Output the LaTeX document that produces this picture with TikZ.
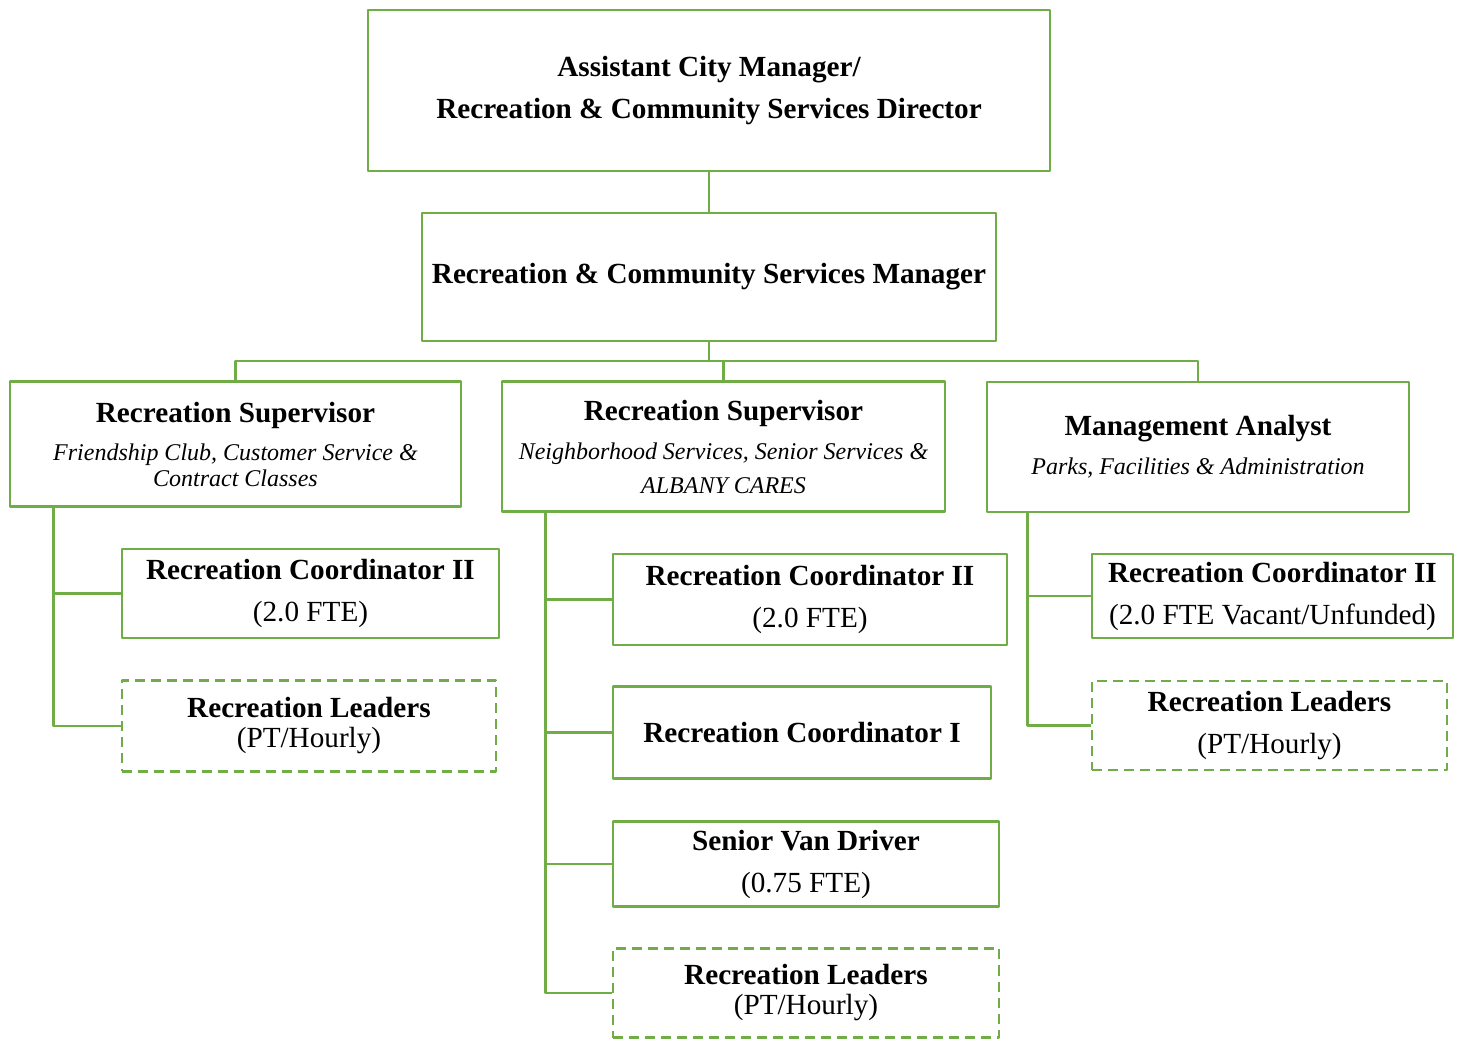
\documentclass[tikz,border=0pt]{standalone}
\usepackage{fontspec}
\setmainfont{Liberation Serif}
\definecolor{orggreen}{RGB}{112,173,71}
\newcommand{\unitnote}[1]{{\mdseries\itshape\fontsize{12pt}{13pt}\selectfont #1}}
\newcommand{\fte}[1]{{\mdseries #1}}
\begin{document}
\begin{tikzpicture}[x=0.5pt,y=-0.5pt,line join=round,
	box/.style={draw=orggreen,line width=1.4pt,inner sep=0pt,align=center,font=\fontsize{14.6pt}{21pt}\selectfont\bfseries},
	vacbox/.style={box,dashed,dash pattern=on 5pt off 3pt},
	conn/.style={draw=orggreen,line width=1.4pt}]
	
	\useasboundingbox (0,0) rectangle (1458,1042);
	% Cấp trên
	\node[box,minimum width=341pt,minimum height=80.5pt] (dir) at (709,90.5) {Assistant City Manager/\\Recreation \& Community Services Director};
	\node[box,minimum width=287pt,minimum height=64pt] (mgr) at (709,277) {Recreation \& Community Services Manager};
	% Ba nhánh
	\node[box,minimum width=225.5pt,minimum height=62.5pt] (sup1) at (235.5,444) {Recreation Supervisor\\[-2pt]\unitnote{Friendship Club, Customer Service \&}\\[-8pt]\unitnote{Contract Classes}};
	\node[box,minimum width=221.5pt,minimum height=65pt] (sup2) at (723.5,446.5) {Recreation Supervisor\\[-1.5pt]\unitnote{Neighborhood Services, Senior Services \&}\\[-4pt]\unitnote{ALBANY CARES}};
	\node[box,minimum width=211pt,minimum height=65pt] (ma) at (1198,447) {Management Analyst\\[-1.5pt]\unitnote{Parks, Facilities \& Administration}};
	% Nhánh trái
	\node[box,minimum width=188.5pt,minimum height=44.5pt] (rc2a) at (310.5,593.5) {Recreation Coordinator II\\\fte{(2.0 FTE)}};
	\node[vacbox,minimum width=187pt,minimum height=45.5pt] (rla) at (309,726) {Recreation Leaders\\[-6pt]\fte{(PT/Hourly)}};
	% Nhánh giữa
	\node[box,minimum width=197pt,minimum height=45.5pt] (rc2b) at (810,599.5) {Recreation Coordinator II\\\fte{(2.0 FTE)}};
	\node[box,minimum width=189pt,minimum height=46pt] (rc1) at (802,732.5) {Recreation Coordinator I};
	\node[box,minimum width=193pt,minimum height=42.5pt] (svd) at (806,864) {Senior Van Driver\\\fte{(0.75 FTE)}};
	\node[vacbox,minimum width=193pt,minimum height=44.5pt] (rlb) at (806,993) {Recreation Leaders\\[-6pt]\fte{(PT/Hourly)}};
	% Nhánh phải
	\node[box,minimum width=180.5pt,minimum height=42pt] (rc2c) at (1272.5,596) {Recreation Coordinator II\\\fte{(2.0 FTE Vacant/Unfunded)}};
	\node[vacbox,minimum width=177.5pt,minimum height=44.5pt] (rlc) at (1269.5,725.5) {Recreation Leaders\\\fte{(PT/Hourly)}};
	
	\coordinate (bus) at (709,361);
	\draw[conn] (dir.south) -- (mgr.north);
	\draw[conn] (mgr.south) -- (bus);
	\draw[conn] (sup1.north) |- (bus) -| (ma.north);
	\draw[conn] (sup2.north) -- (sup2.north |- bus);
	% Đường dọc của từng nhánh
	\draw[conn] (rc2a.west) -| ([xshift=22.5pt]sup1.south west);
	\draw[conn] ([xshift=22.5pt]sup1.south west) |- (rla.west);
	\foreach \n in {rc2b,rc1,svd}
		\draw[conn] (\n.west) -| ([xshift=22.5pt]sup2.south west);
	\draw[conn] ([xshift=22.5pt]sup2.south west) |- (rlb.west);
	\draw[conn] (rc2c.west) -| ([xshift=21pt]ma.south west);
	\draw[conn] ([xshift=21pt]ma.south west) |- (rlc.west);
\end{tikzpicture}
\end{document}
